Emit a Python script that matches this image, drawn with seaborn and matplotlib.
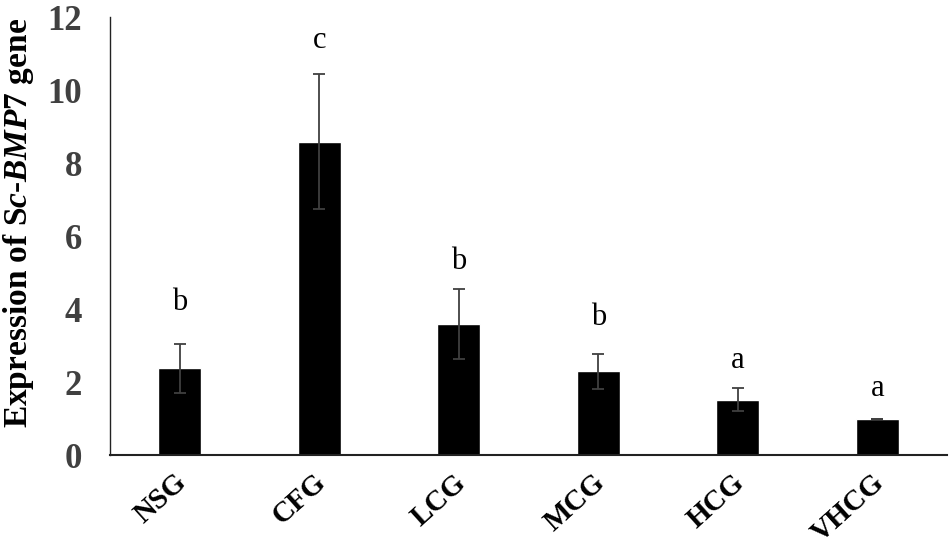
import matplotlib
matplotlib.use("Agg")
import matplotlib.pyplot as plt
import matplotlib.transforms as mtransforms
import seaborn as sns
import pandas as pd

groups = ["NSG", "CFG", "LCG", "MCG", "HCG", "VHCG"]
means = [2.38, 8.58, 3.59, 2.30, 1.52, 0.99]
errors = [0.67, 1.85, 0.97, 0.48, 0.31, 0.01]
letters = ["b", "c", "b", "b", "a", "a"]
letter_y = [4.19, 11.37, 5.29, 3.78, 2.60, 1.81]
y_ticks = [0, 2, 4, 6, 8, 10, 12]

sns.set_theme(style="white")
plt.rcParams["font.family"] = ["Liberation Serif", "DejaVu Serif"]
plt.rcParams["mathtext.fontset"] = "custom"
plt.rcParams["mathtext.it"] = "Liberation Serif:italic:bold"
plt.rcParams["mathtext.rm"] = "Liberation Serif:bold"
plt.rcParams["mathtext.bf"] = "Liberation Serif:bold"

df = pd.DataFrame({"group": groups, "mean": means})

fig = plt.figure(figsize=(9.5, 5.51), dpi=100)
ax = fig.add_axes([0.1158, 0.1742, 0.8811, 0.7948])

sns.barplot(data=df, x="group", y="mean", order=groups, color="black",
            width=0.31, ax=ax, errorbar=None, saturation=1)
ax.errorbar(range(len(groups)), means, yerr=errors, fmt="none",
            ecolor="#404040", elinewidth=1.3, capsize=4.5, capthick=1.3)

for i, (t, y) in enumerate(zip(letters, letter_y)):
    ax.text(i, y, t, ha="center", va="center", fontsize=22, color="black")

ax.set_xlim(-0.5, len(groups) - 0.5)
ax.set_ylim(0, 12)
ax.set_yticks(y_ticks)
ax.set_yticklabels([str(v) for v in y_ticks], fontsize=25, fontweight="bold",
                   color="#404040")
ax.tick_params(axis="y", length=0, pad=20)
ax.tick_params(axis="x", length=0, pad=10)
ax.set_xticks(range(len(groups)))
ax.set_xticklabels(groups, rotation=42, ha="right", va="top",
                   rotation_mode="anchor", fontsize=21, fontweight="bold",
                   color="black")
shift = mtransforms.ScaledTranslation(-6 / 100, 0, fig.dpi_scale_trans)
for lbl in ax.get_xticklabels():
    lbl.set_transform(lbl.get_transform() + shift)
ax.set_xlabel("")
ax.set_ylabel(r"Expression of S$c$-$BMP7$ gene", fontsize=24,
              fontweight="bold", color="black")
ax.yaxis.set_label_coords(-0.088, 0.53)

for s in ["top", "right"]:
    ax.spines[s].set_visible(False)
ax.spines["left"].set_color("#222222")
ax.spines["left"].set_linewidth(1.0)
ax.spines["bottom"].set_color("#222222")
ax.spines["bottom"].set_linewidth(1.5)

fig.savefig("out.png", dpi=100, facecolor="white")
